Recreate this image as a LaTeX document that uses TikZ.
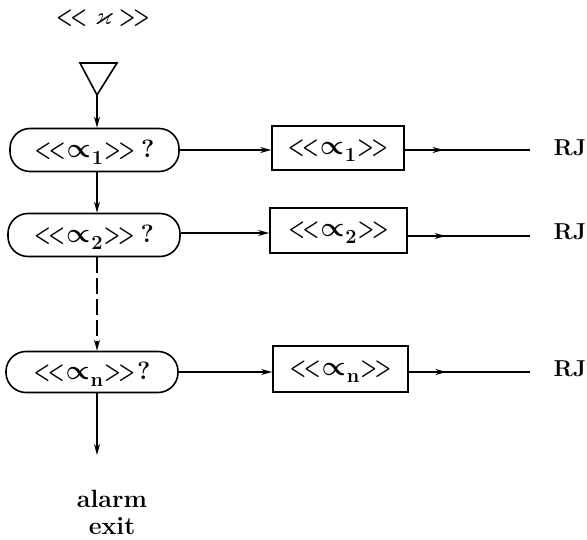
\RequirePackage{fix-cm}
\documentclass[tikz,border=0pt]{standalone}
\usepackage{amsmath,amssymb}
\usepackage{fontspec}
\usetikzlibrary{arrows.meta,decorations.markings}
% chevron pairs and a bracketed name with a lowered index
\newcommand{\onel}{\scalebox{0.75}[1]{\bfseries <}}
\newcommand{\oner}{\scalebox{0.75}[1]{\bfseries >}}
\newcommand{\chl}{\onel\kern-2.5pt\onel}
\newcommand{\chr}{\oner\kern-2.5pt\oner}
\newcommand{\chv}[1]{\chl\kern1pt{\fontsize{27}{27}\selectfont$\boldsymbol{\propto}$}\kern1pt\raisebox{-7pt}[0pt][0pt]{\fontsize{20}{20}\selectfont #1}\kern1pt\chr}
\begin{document}
\begin{tikzpicture}[x=1pt,y=-1pt,
  line width=1.6pt,
  every node/.style={font=\fontsize{25}{28}\selectfont\bfseries, inner sep=0pt},
  tip/.style={-{Stealth[length=11pt,width=6pt]}},
  query/.style={draw, rounded corners=20pt, minimum height=43pt},
  action/.style={draw, minimum height=44pt},
  outlink/.style={postaction={decorate},
    decoration={markings, mark=at position 0.31 with {\arrow{Stealth[length=11pt,width=6pt]}}}},
  lbl/.style={font=\fontsize{23}{26}\selectfont\bfseries},
  exitlbl/.style={align=center, font=\fontsize{25}{27}\selectfont\bfseries}
]
\useasboundingbox[fill=white] (0,0) rectangle (587,540);

% heading
\node (head) at (103,18) {\chl\kern8pt$\boldsymbol{\varkappa}$\kern6pt\chr};

% entry triangle
\draw (80,63) -- (117,63) -- (97,95) -- cycle;
\coordinate (apex) at (97,95);

% decision boxes
\node[query, minimum width=169pt] (q1) at (94.5,150) {\chv{1}\kern6pt ?};
\node[query, minimum width=172pt] (q2) at (94,235) {\chv{2}\kern6pt ?};
\node[query, minimum width=172pt, minimum height=41pt] (qn) at (92,372) {\chv{n}\kern2pt ?};

% action boxes
\node[action, minimum width=132pt] (r1) at (338,148) {\chv{1}};
\node[action, minimum width=137pt, minimum height=45pt] (r2) at (338.5,230.5) {\chv{2}};
\node[action, minimum width=135pt, minimum height=46pt] (rn) at (340.5,369) {\chv{n}};

% exits
\node[lbl] (j1) at (570,148) {RJ};
\node[lbl] (j2) at (570,232) {RJ};
\node[lbl] (jn) at (570,369) {RJ};
\coordinate (e1) at (530,150);
\coordinate (e2) at (530,236);
\coordinate (en) at (530,372);

\node[exitlbl] (alarm) at (112,512) {alarm\\exit};
\coordinate (down) at (97,455);

% vertical chain
\draw[tip] (apex) -- (apex |- q1.north);
\draw[tip] (q1.south -| apex) -- (q2.north -| apex);
\draw[tip, dash pattern=on 16pt off 5pt] (q2.south -| apex) -- (qn.north -| apex);
\draw[tip] (qn.south -| apex) -- (down);

% decision to action
\draw[tip] (q1.east) -- (q1.east -| r1.west);
\draw[tip] ([yshift=2pt]q2.east) -- ([yshift=2pt]q2.east -| r2.west);
\draw[tip] (qn.east) -- (qn.east -| rn.west);

% action to exit
\draw[outlink] (r1.east |- e1) -- (e1);
\draw[outlink] (r2.east |- e2) -- (e2);
\draw[outlink] (rn.east |- en) -- (en);
\end{tikzpicture}
\end{document}
